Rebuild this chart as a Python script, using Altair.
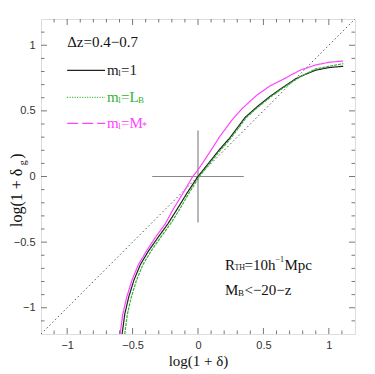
import altair as alt
import pandas as pd

W, H = 314, 315
XD = [-1.2, 1.2]
YD = [-1.2, 1.2]
PXX = W / 2.4
PXY = H / 2.4

# ---- data ----
black_x = [-0.58, -0.56, -0.53, -0.49, -0.44, -0.38, -0.31, -0.23, -0.16, -0.08, 0.0, 0.08, 0.16, 0.24, 0.30, 0.36, 0.45, 0.55, 0.65, 0.74, 0.80, 0.90, 1.00, 1.11]
black_y = [-1.20, -1.05, -0.92, -0.79, -0.67, -0.57, -0.47, -0.36, -0.25, -0.12, 0.0, 0.10, 0.20, 0.29, 0.37, 0.45, 0.53, 0.61, 0.68, 0.74, 0.77, 0.81, 0.83, 0.84]
green_x = [-0.56, -0.54, -0.51, -0.47, -0.42, -0.36, -0.29, -0.21, -0.14, -0.065, 0.01, 0.09, 0.17, 0.25, 0.31, 0.37, 0.46, 0.56, 0.66, 0.75, 0.80, 0.90, 1.00, 1.11]
green_y = [-1.20, -1.05, -0.92, -0.79, -0.67, -0.57, -0.47, -0.36, -0.25, -0.12, 0.0, 0.10, 0.20, 0.29, 0.37, 0.45, 0.53, 0.61, 0.68, 0.74, 0.77, 0.82, 0.84, 0.86]
magenta_x = [-0.595, -0.575, -0.545, -0.505, -0.455, -0.395, -0.33, -0.25, -0.19, -0.11, -0.04, 0.0, 0.08, 0.17, 0.26, 0.34, 0.45, 0.55, 0.65, 0.78, 0.90, 1.00, 1.11]
magenta_y = [-1.20, -1.05, -0.92, -0.79, -0.67, -0.57, -0.47, -0.36, -0.25, -0.12, 0.0, 0.05, 0.17, 0.31, 0.43, 0.52, 0.62, 0.69, 0.74, 0.81, 0.85, 0.87, 0.88]

series_names = ["m=1", "m=L_B", "m=M*"]
series_colors = ["#222222", "#33b233", "#ff44ff"]

diag_x = [-1.2, 1.2]
diag_y = [-1.2, 1.2]

cross_h = {"x": [-0.35], "x2": [0.35], "y": [0.0]}
cross_v = {"x": [0.0], "y": [-0.35], "y2": [0.35]}

major_ticks = [-1, -0.5, 0, 0.5, 1]
minor_ticks = [-1.1, -0.9, -0.8, -0.7, -0.6, -0.4, -0.3, -0.2, -0.1,
               0.1, 0.2, 0.3, 0.4, 0.6, 0.7, 0.8, 0.9, 1.1]

xs = alt.Scale(domain=XD, nice=False, zero=False)
ys = alt.Scale(domain=YD, nice=False, zero=False)

x_axis = alt.Axis(
    values=major_ticks, format="~g", ticks=False, domain=False, grid=False,
    labelFont="Liberation Sans", labelFontSize=11, labelColor="#333333", labelPadding=5,
    title="log(1 + δ)", titleFont="Liberation Serif", titleFontSize=15,
    titleFontWeight="normal", titleColor="#111111", titlePadding=3)
y_axis = alt.Axis(
    values=major_ticks, format="~g", ticks=False, domain=False, grid=False,
    labelFont="Liberation Sans", labelFontSize=11, labelColor="#333333", labelPadding=6,
    title=None)


def X(f):
    return alt.X(f, scale=xs, axis=x_axis)


def Y(f):
    return alt.Y(f, scale=ys, axis=y_axis)


# ---- curves ----
rows = []
for name, xx, yy in [(series_names[0], black_x, black_y),
                     (series_names[1], green_x, green_y),
                     (series_names[2], magenta_x, magenta_y)]:
    for i, (a, b) in enumerate(zip(xx, yy)):
        rows.append({"series": name, "x": a, "y": b, "i": i})
curves = pd.DataFrame(rows)

col_scale = alt.Scale(domain=series_names, range=series_colors)

curve_layer = alt.Chart(curves).mark_line(strokeWidth=1.2, clip=True).encode(
    x=X("x:Q"),
    y=Y("y:Q"),
    color=alt.Color("series:N", scale=col_scale, legend=None),
    strokeDash=alt.StrokeDash("series:N", scale=alt.Scale(domain=series_names, range=[[1, 0], [3, 1], [1, 0]]), legend=None),
    order="i:Q",
)

diag = alt.Chart(pd.DataFrame({"x": diag_x, "y": diag_y})).mark_line(
    color="#555555", strokeWidth=1, strokeDash=[1.5, 2.5]
).encode(x=X("x:Q"), y=Y("y:Q"))

cross1 = alt.Chart(pd.DataFrame(cross_h)).mark_rule(color="#888888", strokeWidth=1.2).encode(
    x=X("x:Q"), x2="x2:Q", y=Y("y:Q"))
cross2 = alt.Chart(pd.DataFrame(cross_v)).mark_rule(color="#888888", strokeWidth=1.2).encode(
    x=X("x:Q"), y=Y("y:Q"), y2="y2:Q")


# ---- inward ticks on all four sides ----
def tick_layers(vals, L):
    df = pd.DataFrame({"v": vals})
    base = alt.Chart(df).mark_rule(color="#777777", strokeWidth=1)
    return [
        base.encode(x=X("v:Q"), y=alt.value(H), y2=alt.value(H - L)),
        base.encode(x=X("v:Q"), y=alt.value(0), y2=alt.value(L)),
        base.encode(y=Y("v:Q"), x=alt.value(0), x2=alt.value(L)),
        base.encode(y=Y("v:Q"), x=alt.value(W), x2=alt.value(W - L)),
    ]


ticks = tick_layers(major_ticks, 6) + tick_layers(minor_ticks, 3.5)

# ---- legend sample lines ----
leg_y = [0.809, 0.603, 0.405]
leg_x0, leg_x1 = -1.0, -0.71
leg_dashes = [[1, 0], [1, 1.5], [11, 4]]
leg_layers = []
for yv, c, d in zip(leg_y, series_colors, leg_dashes):
    leg_layers.append(
        alt.Chart(pd.DataFrame({"x": [leg_x0], "x2": [leg_x1], "y": [yv]})).mark_rule(
            color=c, strokeWidth=1.2, strokeDash=d).encode(
            x=X("x:Q"), x2="x2:Q", y=Y("y:Q")))

# ---- annotation text pieces (anchor in data units, offsets in px) ----
tx = -0.695
pieces = [
    (-1.0, 1.023, 0, 0, "Δz=0.4−0.7", 15, "#111111"),
    (tx, leg_y[0], 0, 0, "m", 15, series_colors[0]),
    (tx, leg_y[0], 11.2, 3, "l", 9, series_colors[0]),
    (tx, leg_y[0], 14, 0, "=1", 15, series_colors[0]),
    (tx, leg_y[1], 0, 0, "m", 15, series_colors[1]),
    (tx, leg_y[1], 11.2, 3, "l", 9, series_colors[1]),
    (tx, leg_y[1], 14, 0, "=L", 15, series_colors[1]),
    (tx, leg_y[1], 31, 3, "B", 9, series_colors[1]),
    (tx, leg_y[2], 0, 0, "m", 15, series_colors[2]),
    (tx, leg_y[2], 11.2, 3, "l", 9, series_colors[2]),
    (tx, leg_y[2], 14, 0, "=M", 15, series_colors[2]),
    (tx, leg_y[2], 35, 3, "*", 10, series_colors[2]),
    (0.206, -0.672, 0, 0, "R", 15, "#111111"),
    (0.206, -0.672, 9.5, 3, "TH", 8, "#111111"),
    (0.206, -0.672, 19.5, 0, "=10h", 15, "#111111"),
    (0.206, -0.672, 50.5, -5, "−1", 8, "#111111"),
    (0.206, -0.672, 59.5, 0, "Mpc", 15, "#111111"),
    (0.206, -0.863, 0, 0, "M", 15, "#111111"),
    (0.206, -0.863, 13, 3, "B", 9, "#111111"),
    (0.206, -0.863, 19.5, 0, "<−20−z", 15, "#111111"),
]
ann = pd.DataFrame([{"x": ax + dx / PXX, "y": ay - dy / PXY, "t": t, "s": s, "c": c}
                    for ax, ay, dx, dy, t, s, c in pieces])
ann_layer = alt.Chart(ann).mark_text(align="left", baseline="middle", font="Liberation Serif").encode(
    x=X("x:Q"), y=Y("y:Q"),
    text="t:N", size=alt.Size("s:Q", scale=None), color=alt.Color("c:N", scale=None))

# ---- rotated y title pieces ----
ytitle_pieces = [
    (-0.385, -19, "log(1 + δ", 16),
    (0.085, -15, "g", 10),
    (0.135, -19, ")", 16),
]
ytitle_layers = []
for yv, xp, t, s in ytitle_pieces:
    ytitle_layers.append(
        alt.Chart(pd.DataFrame({"y": [yv], "t": [t]})).mark_text(
            align="left", baseline="alphabetic", angle=270, font="Liberation Serif",
            fontSize=s, color="#111111").encode(
            x=alt.value(xp), y=Y("y:Q"), text="t:N"))

chart = alt.layer(
    diag, cross1, cross2, *ticks, curve_layer, *leg_layers, ann_layer, *ytitle_layers
).properties(
    width=W, height=H,
    autosize=alt.AutoSizeParams(type="none"),
    padding={"left": 33, "top": 11, "right": 8, "bottom": 38},
).configure_view(
    stroke="#777777", strokeWidth=1.5
).configure(background="white")

chart.save("out.html", embed_options={"renderer": "svg", "actions": False})
